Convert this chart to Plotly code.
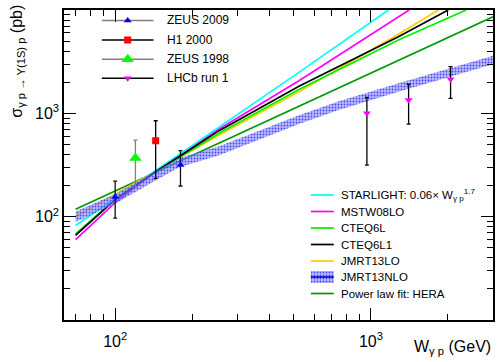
import plotly.graph_objects as go

# ---------------- data ----------------
W_starlight = [70, 100, 142, 255, 523, 1170]
S_starlight = [82, 150, 275, 740, 2490, 10000]

W_mstw = [70, 100, 142, 255, 523, 1280, 1410]
S_mstw = [60, 137, 266, 705, 2070, 8610, 10000]

W_cteq6l = [70, 100, 142, 255, 523, 1280, 2355]
S_cteq6l = [68, 148, 266, 640, 1700, 5125, 10000]

W_cteq6l1 = [70, 100, 142, 255, 523, 1280, 2004]
S_cteq6l1 = [66, 146, 266, 680, 1830, 5520, 10000]

W_jmrt_lo = [70, 100, 142, 255, 523, 1280, 1833]
S_jmrt_lo = [100, 165, 266, 617, 1620, 5820, 10000]

W_jmrt_nlo = [70, 100, 142, 178, 255, 523, 748, 1280, 3000]
S_jmrt_nlo_hi = [112, 165, 270, 370, 480, 960, 1310, 1960, 3600]
S_jmrt_nlo_lo = [89, 133, 220, 300, 392, 790, 1080, 1620, 2980]

W_powerlaw = [70, 3000]
S_powerlaw = [118, 8600]

W_zeus09 = [100, 180]
S_zeus09 = [155, 316]
E_zeus09_up = [66, 119]
E_zeus09_dn = [58, 118]

W_h1 = [144]
S_h1 = [543]
E_h1_up = [305]
E_h1_dn = [308]

W_zeus98 = [120]
S_zeus98 = [370]
E_zeus98_up = [180]
E_zeus98_dn = [180]

W_lhcb = [964, 1403, 2047]
S_lhcb = [1000, 1345, 2134]
E_lhcb_up = [428, 566, 692]
E_lhcb_dn = [684, 558, 737]

x_tickvals = [100, 1000]
x_ticktext = ["10<sup>2</sup>", "10<sup>3</sup>"]
y_tickvals = [100, 1000, 10000]
y_ticktext = ["10<sup>2</sup>", "10<sup>3</sup>", "10<sup>4</sup>"]

legend1_labels = ["ZEUS 2009", "H1 2000", "ZEUS 1998", "LHCb run 1"]
legend2_labels = ["STARLIGHT: 0.06\u00d7 W<sub>\u03b3 p</sub><sup>1.7</sup>", "MSTW08LO", "CTEQ6L",
                  "CTEQ6L1", "JMRT13LO", "JMRT13NLO", "Power law fit: HERA"]

# ---------------- styling ----------------
FONT = "Liberation Sans, Arial, sans-serif"
W_PX, H_PX = 497, 362
ML, MR, MT, MB = 64, 2, 10, 42
PW = W_PX - ML - MR
PH = H_PX - MT - MB

C_CYAN = "#00ffff"
C_MAG = "#ff00ff"
C_LGREEN = "#00ee00"
C_BLACK = "#000000"
C_ORANGE = "#ffcc00"
C_DGREEN = "#009900"
C_BAND = "rgba(120,120,255,0.55)"
BAND_PATTERN = dict(shape=".", fgcolor="#4646ff", bgcolor="rgba(135,135,255,0.55)",
                    size=3, solidity=0.3, fillmode="replace")


def px_u(px):
    return (px - ML) / PW


def px_v(py):
    return (H_PX - MB - py) / PH


fig = go.Figure()

curves = [
    (W_powerlaw, S_powerlaw, C_DGREEN),
    (W_jmrt_lo, S_jmrt_lo, C_ORANGE),
    (W_cteq6l, S_cteq6l, C_LGREEN),
    (W_mstw, S_mstw, C_MAG),
    (W_starlight, S_starlight, C_CYAN),
    (W_cteq6l1, S_cteq6l1, C_BLACK),
]
for wx, sy, col in curves:
    fig.add_trace(go.Scatter(x=wx, y=sy, mode="lines", line=dict(color=col, width=1.7),
                             showlegend=False))

# JMRT13NLO band (hatched, over the curves)
fig.add_trace(go.Scatter(x=W_jmrt_nlo, y=S_jmrt_nlo_lo, mode="lines", line=dict(width=0),
                         showlegend=False, hoverinfo="skip"))
fig.add_trace(go.Scatter(x=W_jmrt_nlo, y=S_jmrt_nlo_hi, mode="lines", line=dict(width=0),
                         fill="tonexty", fillcolor=C_BAND, fillpattern=BAND_PATTERN,
                         showlegend=False, hoverinfo="skip"))


def data_trace(wx, sy, up, dn, sym, col, size, ecol):
    return go.Scatter(x=wx, y=sy, mode="markers",
                      marker=dict(symbol=sym, color=col, size=size, line=dict(width=0)),
                      error_y=dict(type="data", symmetric=False, array=up, arrayminus=dn,
                                   color=ecol, thickness=1.3, width=2),
                      showlegend=False)


fig.add_trace(data_trace(W_zeus98, S_zeus98, E_zeus98_up, E_zeus98_dn, "triangle-up", "#00ff00", 11, "#808080"))
fig.add_trace(data_trace(W_zeus09, S_zeus09, E_zeus09_up, E_zeus09_dn, "triangle-up", "#0000ff", 7, "#111111"))
fig.add_trace(data_trace(W_h1, S_h1, E_h1_up, E_h1_dn, "square", "#ff0000", 7, "#000000"))
fig.add_trace(data_trace(W_lhcb, S_lhcb, E_lhcb_up, E_lhcb_dn, "triangle-down", "#ff00ff", 7, "#000000"))

# ---------------- legend keys (overlay axis in plot-area units) ----------------
leg1_rows = [20.5, 40, 59.3, 78.3]
leg1_style = [("triangle-up", "#0000ff", 7, "#808080"),
              ("square", "#ff0000", 7, "#000000"),
              ("triangle-up", "#00ff00", 11, "#808080"),
              ("triangle-down", "#ff00ff", 7, "#000000")]
annotations = []
for row, (sym, col, size, lcol), lab in zip(leg1_rows, leg1_style, legend1_labels):
    fig.add_trace(go.Scatter(x=[px_u(102), px_u(154)], y=[px_v(row)] * 2, mode="lines",
                             line=dict(color=lcol, width=1.6), xaxis="x2", yaxis="y2",
                             showlegend=False, hoverinfo="skip"))
    fig.add_trace(go.Scatter(x=[px_u(128)], y=[px_v(row)], mode="markers",
                             marker=dict(symbol=sym, color=col, size=size), xaxis="x2", yaxis="y2",
                             showlegend=False, hoverinfo="skip"))
    annotations.append(dict(x=px_u(165), y=px_v(row), xref="paper", yref="paper", text=lab,
                            showarrow=False, xanchor="left", yanchor="middle",
                            font=dict(family=FONT, size=12, color="black")))

leg2_rows = [195, 211.5, 228, 244.5, 261, 277, 293.5]
leg2_cols = [C_CYAN, C_MAG, C_LGREEN, C_BLACK, C_ORANGE, None, C_DGREEN]
for row, col, lab in zip(leg2_rows, leg2_cols, legend2_labels):
    if col is None:
        fig.add_trace(go.Scatter(x=[px_u(312), px_u(335), px_u(335), px_u(312), px_u(312)],
                                 y=[px_v(row - 6), px_v(row - 6), px_v(row + 6), px_v(row + 6), px_v(row - 6)],
                                 mode="lines", line=dict(width=0), fill="toself", fillcolor=C_BAND,
                                 fillpattern=BAND_PATTERN,
                                 xaxis="x2", yaxis="y2", showlegend=False, hoverinfo="skip"))
        fig.add_trace(go.Scatter(x=[px_u(312), px_u(335)], y=[px_v(row)] * 2, mode="lines",
                                 line=dict(color="#0000cc", width=1.6), xaxis="x2", yaxis="y2",
                                 showlegend=False, hoverinfo="skip"))
    else:
        fig.add_trace(go.Scatter(x=[px_u(312), px_u(335)], y=[px_v(row)] * 2, mode="lines",
                                 line=dict(color=col, width=1.7), xaxis="x2", yaxis="y2",
                                 showlegend=False, hoverinfo="skip"))
    annotations.append(dict(x=px_u(340), y=px_v(row), xref="paper", yref="paper", text=lab,
                            showarrow=False, xanchor="left", yanchor="middle",
                            font=dict(family=FONT, size=11.5, color="black")))

# axis titles
annotations.append(dict(x=px_u(17), y=px_v(3), xref="paper", yref="paper",
                        text="\u03c3<sub>\u03b3 p \u2192 \u03a5(1S) p</sub> (pb)", textangle=-90,
                        showarrow=False, xanchor="center", yanchor="top",
                        font=dict(family=FONT, size=16, color="black")))
annotations.append(dict(x=px_u(495), y=px_v(347), xref="paper", yref="paper",
                        text="W<sub>\u03b3 p</sub> (GeV)", showarrow=False,
                        xanchor="right", yanchor="middle",
                        font=dict(family=FONT, size=16, color="black")))

x_minor = [70, 80, 90, 200, 300, 400, 500, 600, 700, 800, 900, 2000, 3000]
y_minor = [20, 30, 40, 50, 60, 70, 80, 90, 200, 300, 400, 500, 600, 700, 800, 900,
           2000, 3000, 4000, 5000, 6000, 7000, 8000, 9000]

fig.update_layout(
    width=W_PX, height=H_PX,
    margin=dict(l=ML, r=MR, t=MT, b=MB, pad=0),
    paper_bgcolor="white", plot_bgcolor="white",
    font=dict(family=FONT, size=16, color="black"),
    showlegend=False,
    annotations=annotations,
    xaxis=dict(type="log", range=[1.80, 3.477], showgrid=False, zeroline=False,
               showline=True, linecolor="black", linewidth=1.5, mirror="ticks",
               ticks="inside", ticklen=12, tickwidth=1, tickcolor="black",
               tickmode="array", tickvals=x_tickvals, ticktext=x_ticktext,
               tickfont=dict(family=FONT, size=16), ticklabelstandoff=6,
               minor=dict(ticks="inside", ticklen=6, tickwidth=1, tickcolor="black",
                          tickmode="array", tickvals=x_minor, showgrid=False)),
    yaxis=dict(type="log", range=[1, 4], showgrid=False, zeroline=False,
               showline=True, linecolor="black", linewidth=1.5, mirror="ticks",
               ticks="inside", ticklen=12, tickwidth=1, tickcolor="black",
               tickmode="array", tickvals=y_tickvals, ticktext=y_ticktext,
               tickfont=dict(family=FONT, size=16),
               minor=dict(ticks="inside", ticklen=6, tickwidth=1, tickcolor="black",
                          tickmode="array", tickvals=y_minor, showgrid=False)),
    xaxis2=dict(overlaying="x", range=[0, 1], visible=False, fixedrange=True),
    yaxis2=dict(overlaying="y", range=[0, 1], visible=False, fixedrange=True),
)

fig.write_html("out.html", config={"displayModeBar": False},
               post_script="document.body.style.margin='0px';document.body.style.overflow='hidden';")
